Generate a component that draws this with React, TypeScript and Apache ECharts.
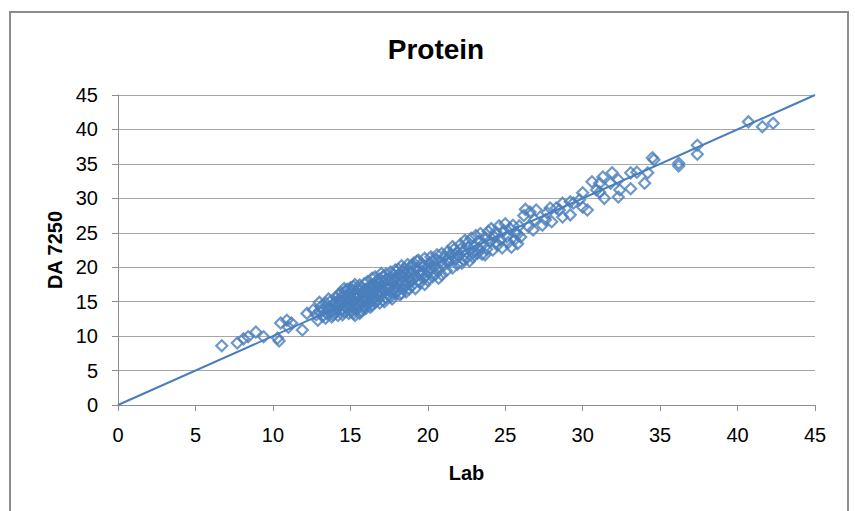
import React, { useEffect, useRef } from "react";
import * as echarts from "echarts";

const titleText = "Protein";
const xAxisName = "Lab";
const yAxisName = "DA 7250";
const axisMin = 0;
const axisMax = 45;
const axisStep = 5;

// Lab vs DA 7250 readings
const lowPoints: number[][] = [
  [6.7, 8.6], [7.7, 9.0], [8.1, 9.6], [8.4, 9.9], [8.9, 10.6], [9.4, 9.9], [10.3, 9.7], [10.4, 9.3],
  [10.5, 11.9], [10.9, 12.3], [11.0, 11.3], [11.2, 11.9], [11.9, 10.9], [12.2, 13.3], [12.6, 13.8], [12.9, 12.3],
];
const band13: number[][] = [
  [13.0, 13.6], [13.1, 14.3], [13.2, 12.9], [13.3, 13.8], [13.4, 14.8], [13.5, 13.2], [13.6, 14.1], [13.7, 15.0],
  [13.8, 13.6], [13.9, 14.5], [13.4, 12.6], [13.8, 12.8], [13.0, 14.9], [12.8, 13.1], [13.6, 15.4], [13.9, 13.1],
];
const band14: number[][] = [
  [14.0, 13.4], [14.0, 14.9], [14.1, 15.6], [14.1, 14.2], [14.2, 13.0], [14.2, 16.0], [14.3, 14.6], [14.3, 15.3],
  [14.4, 13.8], [14.4, 16.3], [14.5, 14.9], [14.5, 15.8], [14.6, 13.5], [14.6, 14.4], [14.7, 15.5], [14.7, 16.6],
  [14.8, 14.0], [14.8, 15.1], [14.9, 16.1], [14.9, 13.3], [14.9, 14.7], [14.5, 13.1], [14.2, 14.7], [14.6, 16.9],
  [14.4, 15.1], [14.8, 16.8], [14.1, 13.8], [14.7, 14.2],
];
const band15: number[][] = [
  [15.0, 15.6], [15.0, 14.2], [15.1, 16.6], [15.1, 13.6], [15.2, 15.0], [15.2, 17.2], [15.3, 14.5], [15.3, 16.0],
  [15.4, 13.9], [15.4, 15.4], [15.5, 16.8], [15.5, 14.8], [15.6, 17.4], [15.6, 15.9], [15.7, 13.6], [15.7, 14.9],
  [15.8, 16.4], [15.8, 15.3], [15.9, 17.6], [15.9, 14.4], [15.0, 17.0], [15.3, 17.5], [15.6, 13.3], [15.9, 16.0],
  [15.2, 13.3], [15.5, 15.8], [15.8, 14.0], [15.1, 15.3], [15.4, 16.4], [15.7, 16.9], [15.3, 13.0], [15.6, 14.5],
];
const band16: number[][] = [
  [16.0, 15.4], [16.0, 16.8], [16.1, 14.6], [16.1, 17.9], [16.2, 15.9], [16.2, 16.3], [16.3, 14.2], [16.3, 17.3],
  [16.4, 15.1], [16.4, 18.4], [16.5, 16.4], [16.5, 15.6], [16.6, 17.0], [16.6, 14.9], [16.7, 18.0], [16.7, 16.2],
  [16.8, 15.3], [16.8, 17.6], [16.9, 16.7], [16.9, 14.8], [16.3, 15.7], [16.6, 18.6], [16.0, 14.0], [16.9, 18.3],
  [16.5, 17.5], [16.2, 17.0], [16.4, 14.5], [16.8, 16.0], [16.1, 16.2],
];
const band17: number[][] = [
  [17.0, 16.0], [17.0, 17.4], [17.1, 15.2], [17.1, 18.6], [17.2, 16.6], [17.2, 17.9], [17.3, 15.6], [17.3, 19.0],
  [17.4, 16.9], [17.4, 17.3], [17.5, 15.9], [17.5, 18.4], [17.6, 16.4], [17.6, 19.3], [17.7, 17.7], [17.7, 15.4],
  [17.8, 18.9], [17.8, 16.8], [17.9, 17.2], [17.9, 19.6], [17.2, 15.0], [17.5, 17.0], [17.9, 16.2], [17.0, 19.1],
  [17.3, 18.2], [17.6, 15.7], [17.1, 16.8], [17.8, 18.1],
];
const band18: number[][] = [
  [18.0, 16.6], [18.0, 18.2], [18.1, 19.7], [18.1, 17.5], [18.2, 16.0], [18.2, 19.0], [18.3, 17.9], [18.3, 20.2],
  [18.4, 16.9], [18.4, 18.6], [18.5, 17.3], [18.5, 19.8], [18.6, 16.4], [18.6, 18.9], [18.7, 20.4], [18.7, 17.8],
  [18.8, 16.9], [18.8, 19.3], [18.9, 18.0], [18.9, 20.0], [18.3, 16.2], [18.6, 17.5], [18.1, 18.9], [18.4, 19.4],
  [18.8, 18.5],
];
const band19: number[][] = [
  [19.0, 17.4], [19.0, 19.2], [19.1, 20.6], [19.1, 18.3], [19.2, 16.9], [19.3, 19.7], [19.4, 18.0], [19.4, 21.0],
  [19.5, 17.7], [19.6, 19.4], [19.6, 20.5], [19.7, 18.4], [19.8, 21.3], [19.8, 17.5], [19.9, 19.9], [19.9, 18.8],
  [19.3, 20.9], [19.7, 20.1], [19.2, 18.7], [19.5, 19.0], [19.0, 20.3],
];
const band20: number[][] = [
  [20.0, 18.1], [20.1, 20.6], [20.1, 19.4], [20.2, 21.5], [20.3, 18.6], [20.4, 20.0], [20.5, 21.1], [20.5, 19.0],
  [20.6, 21.8], [20.7, 19.7], [20.8, 20.8], [20.9, 18.9], [20.9, 22.0], [20.3, 20.9], [20.7, 18.4], [20.2, 19.9],
];
const band21: number[][] = [
  [21.0, 20.2], [21.1, 21.6], [21.2, 19.5], [21.3, 22.3], [21.4, 20.8], [21.5, 21.9], [21.6, 19.9], [21.7, 22.6],
  [21.8, 21.2], [21.9, 20.4], [21.2, 20.9], [21.6, 23.0], [21.9, 22.2], [21.4, 21.4],
];
const band22: number[][] = [
  [22.0, 21.6], [22.1, 23.3], [22.2, 20.6], [22.3, 22.4], [22.4, 23.9], [22.5, 21.3], [22.6, 22.9], [22.7, 20.9],
  [22.8, 24.2], [22.9, 22.1], [22.3, 21.1], [22.6, 23.6], [22.9, 21.5], [22.1, 22.6],
];
const band23: number[][] = [
  [23.0, 23.1], [23.1, 24.6], [23.2, 22.0], [23.3, 23.8], [23.4, 24.9], [23.5, 21.9], [23.6, 23.4], [23.7, 24.3],
  [23.8, 22.6], [23.9, 25.2], [23.3, 22.7], [23.7, 21.8], [23.0, 22.3],
];
const band24: number[][] = [
  [24.0, 23.8], [24.1, 25.6], [24.2, 22.5], [24.3, 24.4], [24.4, 25.1], [24.5, 23.2], [24.6, 26.0], [24.7, 24.0],
  [24.8, 22.8], [24.9, 25.3], [24.4, 23.6],
];
const band25: number[][] = [
  [25.0, 26.3], [25.1, 24.4], [25.2, 23.6], [25.3, 25.6], [25.5, 26.1], [25.6, 24.0], [25.7, 25.0], [25.8, 23.4],
  [25.9, 26.0], [25.4, 22.9],
];
const band26to30: number[][] = [
  [26.3, 28.4], [26.2, 27.5], [26.8, 25.4], [26.9, 26.9], [27.0, 28.3], [27.4, 26.1], [27.6, 26.9], [27.7, 27.9],
  [27.9, 28.6], [28.0, 26.6], [28.3, 28.6], [28.5, 28.3], [28.7, 29.3], [28.7, 27.3], [29.2, 29.5], [29.2, 27.6],
  [29.4, 29.3], [29.8, 29.8], [30.0, 28.7], [30.0, 30.8], [26.0, 24.4], [26.6, 28.0], [25.8, 24.8], [26.5, 25.9],
];
const band30to35: number[][] = [
  [30.3, 28.3], [30.6, 32.4], [30.9, 31.2], [31.1, 32.2], [31.1, 30.9], [31.3, 33.1], [31.4, 30.0], [31.8, 32.2],
  [31.9, 33.7], [32.3, 32.7], [32.3, 30.2], [32.4, 31.2], [33.1, 31.4], [33.1, 33.7], [33.5, 33.8], [34.0, 32.2],
  [34.2, 33.7], [34.5, 35.9], [34.6, 35.6],
];
const highPoints: number[][] = [
  [36.2, 35.1], [36.2, 34.7], [37.4, 37.7], [37.4, 36.4], [40.7, 41.1], [41.6, 40.4], [42.3, 40.9],
];

const lineData: number[][] = [
  [0, 0],
  [45, 45],
];

const scatterData = [
  ...lowPoints, ...band13, ...band14, ...band15, ...band16, ...band17, ...band18, ...band19,
  ...band20, ...band21, ...band22, ...band23, ...band24, ...band25, ...band26to30, ...band30to35, ...highPoints,
];

const blue = "#4a7ebb";
const font = "'Liberation Sans', Arial, sans-serif";

export default function App() {
  const ref = useRef<HTMLDivElement>(null);
  useEffect(() => {
    if (!ref.current) return;
    const chart = echarts.init(ref.current, undefined, { renderer: "svg" });
    chart.setOption({
      animation: false,
      backgroundColor: "#ffffff",
      title: {
        text: titleText,
        left: 431,
        top: 30,
        textAlign: "center",
        textStyle: { fontFamily: font, fontSize: 28, fontWeight: "bold", color: "#000" },
      },
      graphic: [
        {
          type: "rect",
          shape: { x: 10, y: 12, width: 838, height: 520 },
          style: { fill: "none", stroke: "#8c8c8c", lineWidth: 2 },
          silent: true,
        },
      ],
      grid: { left: 118, right: 40, top: 95, bottom: 106, containLabel: false },
      xAxis: {
        type: "value",
        min: axisMin,
        max: axisMax,
        interval: axisStep,
        name: xAxisName,
        nameLocation: "middle",
        nameGap: 58,
        nameTextStyle: { fontFamily: font, fontSize: 20, fontWeight: "bold", color: "#000" },
        axisLine: { show: true, lineStyle: { color: "#8c8c8c", width: 1 } },
        axisTick: { show: true, length: 6, lineStyle: { color: "#8c8c8c" } },
        axisLabel: { margin: 20, fontFamily: font, fontSize: 20, color: "#000" },
        splitLine: { show: false },
      },
      yAxis: {
        type: "value",
        min: axisMin,
        max: axisMax,
        interval: axisStep,
        name: yAxisName,
        nameLocation: "middle",
        nameGap: 52,
        nameTextStyle: { fontFamily: font, fontSize: 20, fontWeight: "bold", color: "#000" },
        axisLine: { show: true, lineStyle: { color: "#8c8c8c", width: 1 } },
        axisTick: { show: true, length: 6, lineStyle: { color: "#8c8c8c" } },
        axisLabel: { margin: 20, fontFamily: font, fontSize: 20, color: "#000" },
        splitLine: { show: true, lineStyle: { color: "#a6a6a6", width: 1 } },
      },
      series: [
        {
          type: "line",
          data: lineData,
          showSymbol: false,
          symbol: "none",
          lineStyle: { color: blue, width: 2 },
          z: 2,
        },
        {
          type: "scatter",
          data: scatterData,
          symbol: "diamond",
          symbolSize: 11,
          itemStyle: { color: "rgba(255,255,255,0)", borderColor: blue, borderWidth: 2.2 },
          z: 3,
        },
      ],
    });
    return () => chart.dispose();
  }, []);
  return (
    <div
      ref={ref}
      style={{ position: "fixed", left: 0, top: 0, width: 855, height: 511, background: "#fff" }}
    />
  );
}
